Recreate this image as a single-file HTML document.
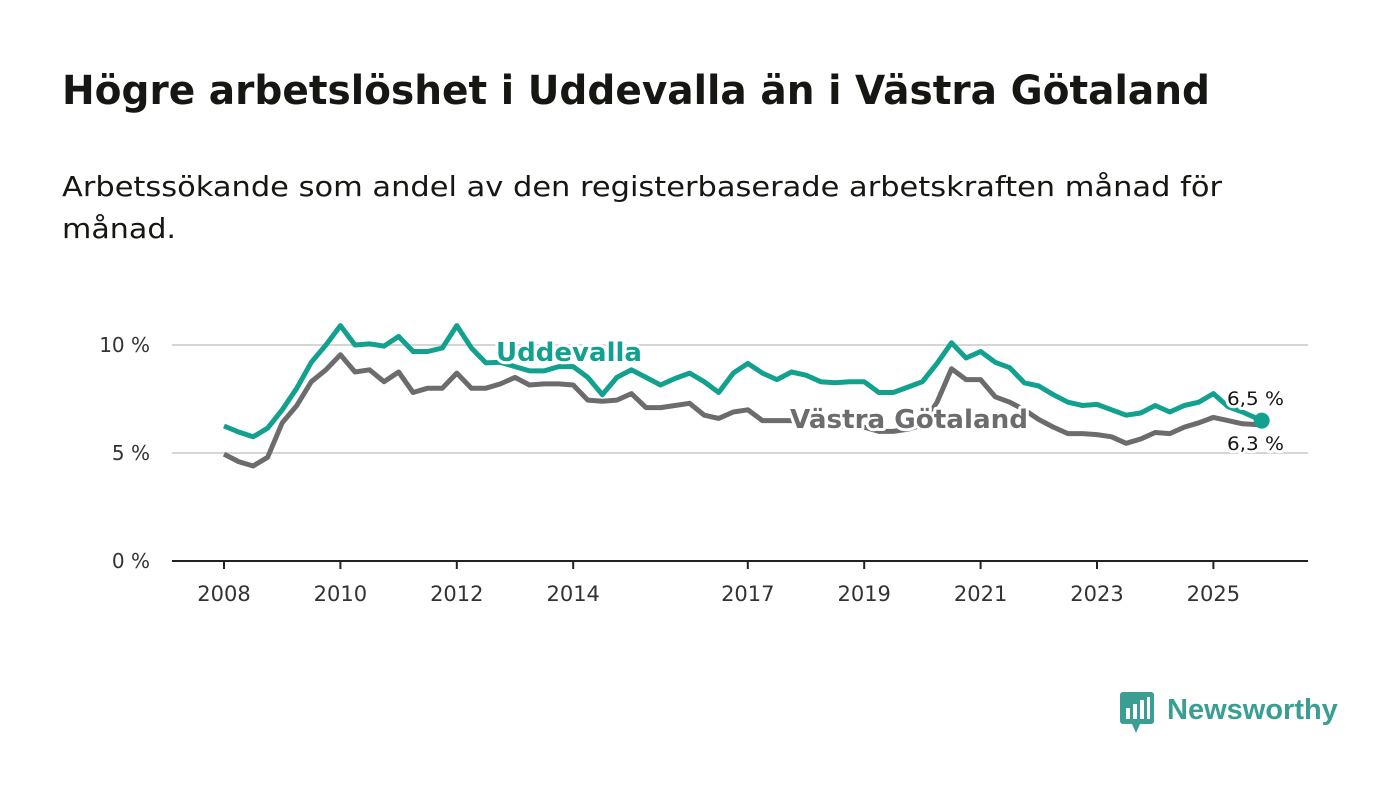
<!DOCTYPE html>
<html><head><meta charset="utf-8"><style>
body{margin:0;background:#fff;width:1400px;height:794px;overflow:hidden;font-family:"DejaVu Sans","Liberation Sans",sans-serif}
</style></head><body>
<svg width="1400" height="794" xmlns="http://www.w3.org/2000/svg">
<text x="62" y="104" font-size="40" font-weight="bold" fill="#161613" textLength="1148" lengthAdjust="spacingAndGlyphs">Högre arbetslöshet i Uddevalla än i Västra Götaland</text>
<text x="62" y="196" font-size="28" fill="#161613" textLength="1160" lengthAdjust="spacingAndGlyphs">Arbetssökande som andel av den registerbaserade arbetskraften månad för</text>
<text x="62" y="238" font-size="28" fill="#161613" textLength="114" lengthAdjust="spacingAndGlyphs">månad.</text>
<g id="grid"></g><g id="lines"></g><g id="labels"></g>
<g>
<rect x="1120" y="692" width="34" height="32" rx="3" fill="#3a9e93"/>
<polygon points="1132,724 1140,724 1136,733" fill="#3a9e93"/>
<rect x="1126" y="708" width="4" height="11" fill="#fff"/><rect x="1133" y="704" width="4" height="15" fill="#fff"/><rect x="1140" y="700" width="4" height="19" fill="#fff"/><rect x="1147" y="697" width="3" height="22" fill="#fff"/>
<text x="1167" y="719" font-size="29" font-weight="bold" fill="#3a9e93" font-family="Liberation Sans, sans-serif">Newsworthy</text>
</g>
</svg>
<script>
const startYear = 2008;
const stepYears = 0.25;
const uddevalla = [6.25,5.97,5.75,6.15,7.0,8.0,9.2,10.0,10.9,10.0,10.05,9.95,10.4,9.7,9.7,9.86,10.9,9.86,9.17,9.2,9.0,8.8,8.8,9.0,9.0,8.5,7.7,8.5,8.85,8.5,8.15,8.45,8.7,8.3,7.8,8.7,9.15,8.7,8.4,8.75,8.6,8.3,8.25,8.3,8.3,7.8,7.8,8.05,8.3,9.15,10.1,9.4,9.7,9.2,8.95,8.25,8.1,7.7,7.35,7.2,7.25,7.0,6.75,6.85,7.2,6.9,7.2,7.35,7.75,7.15,6.9,6.5];
const vastra = [4.95,4.6,4.4,4.8,6.4,7.2,8.3,8.85,9.55,8.75,8.85,8.3,8.75,7.8,8.0,8.0,8.7,8.0,8.0,8.2,8.5,8.15,8.2,8.2,8.15,7.45,7.4,7.45,7.75,7.1,7.1,7.2,7.3,6.75,6.6,6.9,7.0,6.5,6.5,6.5,6.4,6.3,6.2,6.3,6.2,6.0,6.0,6.1,6.3,7.35,8.9,8.4,8.4,7.6,7.35,7.0,6.55,6.2,5.9,5.9,5.85,5.75,5.45,5.65,5.95,5.9,6.2,6.4,6.65,6.5,6.35,6.3];
const yTicks = [0,5,10];
const yTickLabels = ["0 %","5 %","10 %"];
const xTicks = [2008,2010,2012,2014,2017,2019,2021,2023,2025];
const endLabels = ["6,5 %","6,3 %"];
const NS="http://www.w3.org/2000/svg";
const X = yr => 224 + (yr-2008)*58.2;
const Y = v => 561 - v*21.6;
const tOf = i => i===uddevalla.length-1 ? 2025.83 : startYear + i*stepYears;
function mk(tag, attrs, parent){const e=document.createElementNS(NS,tag);for(const k in attrs)e.setAttribute(k,attrs[k]);document.getElementById(parent).appendChild(e);return e;}
yTicks.forEach((v,i)=>{
  const l=mk('line',{x1:172,x2:1308,y1:Y(v),y2:Y(v),stroke:v===0?'#222':'#d6d6d6','stroke-width':2},'grid');
  
  
  const t=mk('text',{x:150,y:Y(v)+7,'font-size':20,fill:'#333','text-anchor':'end'},'grid');
  t.textContent=yTickLabels[i];
  
  
});
xTicks.forEach(yr=>{
  const l=mk('line',{x1:X(yr),x2:X(yr),y1:561,y2:569,stroke:'#222','stroke-width':2},'grid');
  
  
  const t=mk('text',{x:X(yr),y:601,'font-size':21,fill:'#333','text-anchor':'middle'},'grid');
  t.textContent=yr;
  
  
});
function path(arr){return arr.map((v,i)=>(i?'L':'M')+X(tOf(i)).toFixed(1)+','+Y(v).toFixed(1)).join('');}
const pg=mk('path',{d:path(vastra),fill:'none',stroke:'#6d6b6e','stroke-width':5,'stroke-linejoin':'round'},'lines');


const pu=mk('path',{d:path(uddevalla),fill:'none',stroke:'#12a08f','stroke-width':5,'stroke-linejoin':'round'},'lines');


const n=uddevalla.length-1;
const dot=mk('circle',{cx:X(tOf(n)),cy:Y(uddevalla[n]),r:8,fill:'#12a08f'},'lines');


function lab(txt,x,y,size,w,col,len,name){const t=mk('text',{x:x,y:y,'font-size':size,'font-weight':w,fill:col,stroke:'#fff','stroke-width':6,'paint-order':'stroke','stroke-linejoin':'round',textLength:len,lengthAdjust:'spacingAndGlyphs'},'labels');t.textContent=txt;}
lab('Uddevalla',496,361,26,'bold','#12a08f',146,'uddevalla-label');
lab('Västra Götaland',790,428,26,'bold','#6d6b6e',238,'vastra-gotaland-label');
lab(endLabels[0],1227,405,19,'normal','#161613',57,'uddevalla-end-value');
lab(endLabels[1],1227,450,19,'normal','#161613',57,'vastra-end-value');
</script>
</body></html>
